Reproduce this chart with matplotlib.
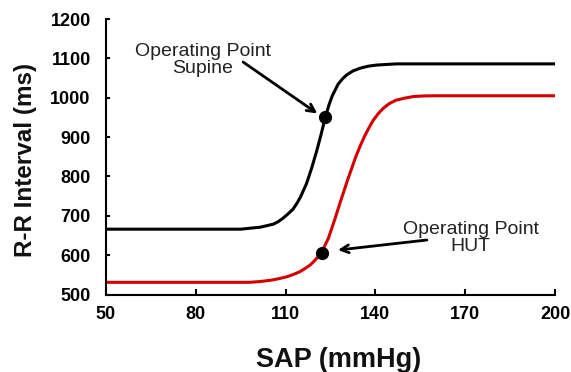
import matplotlib
matplotlib.use('Agg')
import matplotlib.pyplot as plt

plt.rcParams['font.family'] = ['Liberation Sans', 'DejaVu Sans']

# values
sap_supine = [50, 95, 101.5, 103.8, 106, 107.5, 109, 110.7, 112.5, 113.8, 115,
              117, 118.7, 120.4, 121.8, 123.2, 124.5, 125.6, 127.5, 129,
              130.4, 132.5, 134.9, 137.5, 140.4, 147, 200]
rr_supine = [666, 666, 671, 675, 679, 685, 693, 704, 717, 732, 748,
             782, 821, 865, 905, 948, 982, 1005, 1034, 1048,
             1058, 1068, 1075, 1080, 1083, 1086, 1086]

sap_hut = [50, 98, 101.5, 104.8, 107.6, 110.4, 112.6, 114.8, 116.5, 118.2,
           119.3, 120.4, 122, 124.3, 126.3, 128.5, 130.8, 133.5, 134.9,
           136.3, 137.8, 139.3, 141, 142.6, 144.6, 147, 149.8, 152.7, 156,
           160, 200]
rr_hut = [531, 531, 533, 536, 540, 545, 551, 558, 566, 575,
          583, 592, 607, 643, 688, 740, 793, 851, 877,
          901, 923, 943, 960, 973, 985, 994, 999, 1003, 1004.5,
          1005, 1005]

# operating points (supine, HUT)
op_sap = [123.3, 122.0]
op_rr = [950, 606]

x_ticks = [50, 80, 110, 140, 170, 200]
y_ticks = [500, 600, 700, 800, 900, 1000, 1100, 1200]

# create figure
fig = plt.figure(figsize=(5.71, 3.72), dpi=100)
ax = fig.add_axes([0.1856, 0.2083, 0.7864, 0.7406])

# plot the two baroreflex curves
ax.plot(sap_supine, rr_supine, color='black', lw=2.2)
ax.plot(sap_hut, rr_hut, color='#d40000', lw=2.2)
ax.plot(op_sap, op_rr, 'o', color='black', ms=8.5, zorder=5)

# labels for the operating points
ax.text(82.4, 1097, 'Operating Point\nSupine', ha='center', va='center',
        fontsize=14, color='#222222', linespacing=1.0)
ax.annotate('', xy=(120.6, 960), xytext=(95.8, 1090.7),
            arrowprops=dict(arrowstyle='->', lw=2, color='black',
                            shrinkA=0, shrinkB=0, mutation_scale=14))
ax.text(171.8, 643, 'Operating Point\nHUT', ha='center', va='center',
        fontsize=14, color='#222222', linespacing=1.0)
ax.annotate('', xy=(127.5, 613), xytext=(157.2, 638.5),
            arrowprops=dict(arrowstyle='->', lw=2, color='black',
                            shrinkA=0, shrinkB=0, mutation_scale=14))

# plot settings
ax.set_xlim(50, 200)
ax.set_ylim(500, 1200)
ax.set_xticks(x_ticks)
ax.set_yticks(y_ticks)
ax.set_xticklabels([str(t) for t in x_ticks], fontweight='bold', fontsize=13)
ax.set_yticklabels([str(t) for t in y_ticks], fontweight='bold', fontsize=13)
ax.tick_params(axis='x', direction='in', length=4.5, width=1.5, pad=8)
ax.tick_params(axis='y', direction='in', length=3, width=1.5, pad=11)
for side in ['top', 'right']:
    ax.spines[side].set_visible(False)
for side in ['left', 'bottom']:
    ax.spines[side].set_linewidth(1.5)

fig.text(0.0438, 0.571, 'R-R Interval (ms)', rotation=90, ha='center',
         va='center', fontsize=17.5, fontweight='bold', color='#111111')
fig.text(0.593, 0.0134, 'SAP (mmHg)', ha='center', va='baseline',
         fontsize=19.5, fontweight='bold', color='#111111')

fig.savefig('out.png', dpi=100)
